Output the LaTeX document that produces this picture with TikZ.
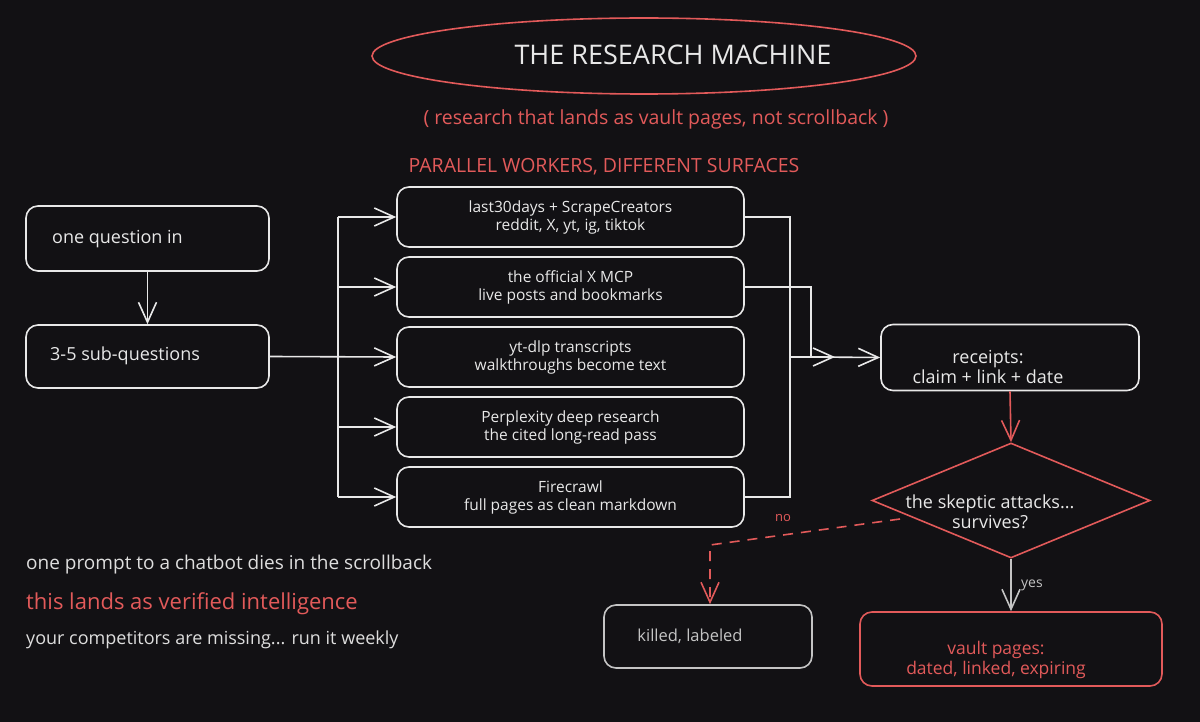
\documentclass[tikz,border=0pt]{standalone}
\usepackage{fontspec}
\setmainfont{Open Sans}
\usetikzlibrary{arrows.meta,shapes.geometric}
\definecolor{bg}{HTML}{121114}
\definecolor{ink}{HTML}{E8E8E8}
\definecolor{redc}{HTML}{E25A5A}
\definecolor{grayc}{HTML}{C4C4C4}
\begin{document}
\begin{tikzpicture}[x=1pt,y=-1pt,
  box/.style={draw=ink, line width=1.6pt, rounded corners=12pt, inner sep=0pt},
  txt/.style={text=ink, font=\fontsize{15.5}{18}\selectfont, align=center, inner sep=0pt},
  wire/.style={draw=ink, line width=1.6pt},
  arr/.style={wire, -{Straight Barb[length=20pt,width=18pt]}},
  redarr/.style={draw=redc, line width=1.6pt, -{Straight Barb[length=20pt,width=18pt]}}
]
\fill[bg] (0,0) rectangle (1200,722);
\useasboundingbox (0,0) rectangle (1200,722);

% title
\node[draw=redc, line width=1.6pt, ellipse, minimum width=544pt, minimum height=76pt, inner sep=0pt] (title) at (644,56) {};
\node[text=ink, font=\fontsize{27}{30}\selectfont, inner sep=0pt] (titletext) at (673,55) {THE RESEARCH MACHINE};
\node[text=redc, font=\fontsize{19.5}{22}\selectfont, inner sep=0pt] (subtitle) at (656,119) {( research that lands as vault pages, not scrollback )};
\node[text=redc, font=\fontsize{19.5}{22}\selectfont, inner sep=0pt] (parallel) at (604,167) {PARALLEL WORKERS, DIFFERENT SURFACES};

% left boxes
\node[box, minimum width=243pt, minimum height=65pt] (q1) at (147.5,238.5) {};
\node[txt, anchor=west, font=\fontsize{18}{20}\selectfont] (q1t) at (52,239) {one question in};
\node[box, minimum width=243pt, minimum height=63pt] (q2) at (147.5,356.5) {};
\node[txt, anchor=west, font=\fontsize{18}{20}\selectfont] (q2t) at (50,356) {3-5 sub-questions};
\draw[arr] (q1) -- (q2);

% workers
\node[box, minimum width=347pt, minimum height=60pt] (w1) at (570.5,217) {};
\node[box, minimum width=347pt, minimum height=60pt] (w2) at (570.5,287) {};
\node[box, minimum width=347pt, minimum height=60pt] (w3) at (570.5,357) {};
\node[box, minimum width=347pt, minimum height=60pt] (w4) at (570.5,427) {};
\node[box, minimum width=347pt, minimum height=60pt] (w5) at (570.5,497) {};
\node[txt] (w1t) at (570.5,217) {last30days + ScrapeCreators\\reddit, X, yt, ig, tiktok};
\node[txt] (w2t) at (570.5,287) {the official X MCP\\live posts and bookmarks};
\node[txt] (w3t) at (570.5,357) {yt-dlp transcripts\\walkthroughs become text};
\node[txt] (w4t) at (570.5,427) {Perplexity deep research\\the cited long-read pass};
\node[txt] (w5t) at (570.5,497) {Firecrawl\\full pages as clean markdown};

% fan-out
\coordinate (busL) at (338,357);
\draw[wire] (busL |- w1.west) -- (busL |- w5.west);
\draw[arr] (q2.east) -- (w3.west);
\draw[arr] (busL |- w1.west) -- (w1.west);
\draw[arr] (busL |- w2.west) -- (w2.west);
\draw[arr] (busL |- w4.west) -- (w4.west);
\draw[arr] (busL |- w5.west) -- (w5.west);

% receipts
\node[box, minimum width=258pt, minimum height=66pt] (rc) at (1010,357.5) {};
\node[txt, font=\fontsize{18}{20}\selectfont] (rct) at (988,367) {receipts:\\claim + link + date};

% fan-in
\coordinate (rb1) at (790,357);
\coordinate (rb2) at (811,357);
\coordinate (rmid) at (835,357);
\draw[wire] (w1.east) -| (rb1);
\draw[wire] (w5.east) -| (rb1);
\draw[arr] (rb1) -- (rmid);
\draw[wire] (w2.east) -| (rb2);
\draw[arr] (rb2) -- (rc.west);

% skeptic
\node[draw=redc, line width=1.6pt, diamond, minimum width=278pt, minimum height=115pt, inner sep=0pt] (sk) at (1011,500.5) {};
\node[txt, font=\fontsize{18}{20}\selectfont] (skt) at (990,512) {the skeptic attacks...\\survives?};
\draw[redarr] (rc.south) -- (sk.north);

% outcomes
\node[box, draw=grayc, minimum width=208pt, minimum height=63pt] (kl) at (708,636.5) {};
\node[txt, text=grayc, font=\fontsize{16.5}{19}\selectfont] (klt) at (690,636) {killed, labeled};
\node[box, draw=redc, minimum width=302pt, minimum height=74pt] (vp) at (1011,649) {};
\node[txt, text=redc, font=\fontsize{17.5}{20}\selectfont] (vpt) at (996,660) {vault pages:\\dated, linked, expiring};

\draw[wire, -{Straight Barb[length=20pt,width=18pt]}, draw=grayc] (sk.south) -- node[right, text=grayc, font=\fontsize{14}{16}\selectfont, pos=0.5, xshift=6pt] (yes) {yes} (vp.north);

\coordinate (nostart) at (900,519);
\coordinate (nocorner) at (710,545);
\draw[redarr, dash pattern=on 10pt off 8pt] (nostart) -- (nocorner) -- (nocorner |- kl.north);
\node[text=redc, font=\fontsize{13}{15}\selectfont, inner sep=0pt] (nolabel) at (783,518) {no};

% bottom-left notes
\node[anchor=west, text=ink!90!gray, font=\fontsize{19}{21}\selectfont, inner sep=0pt] (n1) at (26,565) {one prompt to a chatbot dies in the scrollback};
\node[anchor=west, text=redc, font=\fontsize{22}{24}\selectfont, inner sep=0pt] (n2) at (26,604) {this lands as verified intelligence};
\node[anchor=west, text=ink!90!gray, font=\fontsize{18}{20}\selectfont, inner sep=0pt] (n3) at (26,640) {your competitors are missing... run it weekly};
\end{tikzpicture}
\end{document}
